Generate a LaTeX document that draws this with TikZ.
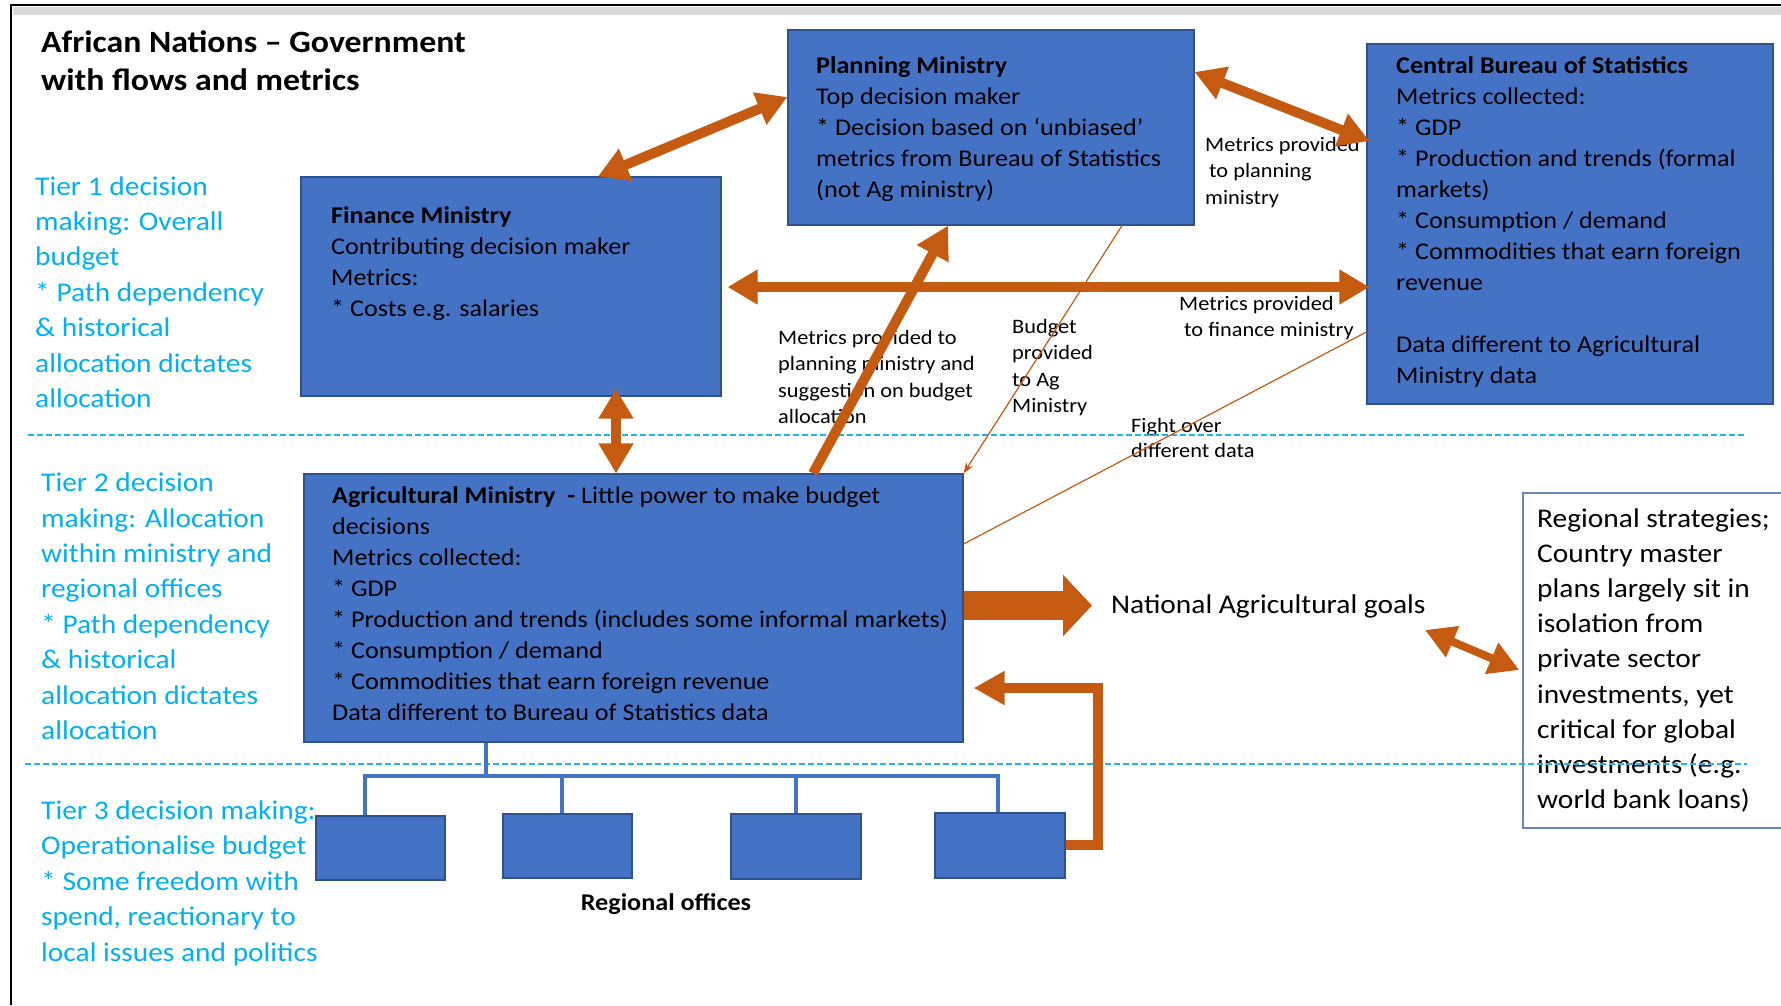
\documentclass[tikz,border=0pt]{standalone}
\usepackage{fontspec}
\setmainfont{Carlito}[FakeStretch=1.09]
\usetikzlibrary{arrows.meta,calc}
\definecolor{boxblue}{HTML}{4472C4}
\definecolor{boxedge}{HTML}{2F528F}
\definecolor{orng}{HTML}{C55A11}
\definecolor{tiercyan}{HTML}{00B0F0}
\definecolor{dashcyan}{HTML}{1FB2EE}
\definecolor{bandgray}{HTML}{DADADA}
\definecolor{noteedge}{HTML}{6A86C0}
\begin{document}
\begin{tikzpicture}[x=1pt,y=-1pt,
  bluebox/.style={draw=boxedge, line width=1.2pt, fill=boxblue, inner sep=0pt},
  txt/.style={anchor=base west, inner sep=0pt, align=left, text=black},
  boxtxt/.style={txt, font=\fontsize{24}{31}\selectfont},
  tiertxt/.style={txt, text=tiercyan, font=\fontsize{27}{35.4}\selectfont},
  labtxt/.style={txt, font=\fontsize{20.5}{26.5}\selectfont},
  bigtxt/.style={txt, font=\fontsize{27}{35.2}\selectfont},
  tierline/.style={draw=dashcyan, line width=2.2pt, dash pattern=on 6pt off 3pt},
  fatarrow/.style={draw=orng, line width=10pt, -{Triangle[length=32pt,width=34pt]}},
  fatdouble/.style={draw=orng, line width=10pt, {Triangle[length=30pt,width=33pt]}-{Triangle[length=30pt,width=33pt]}},
  thinarrow/.style={draw=orng, line width=1.2pt},
  treeline/.style={draw=boxblue, line width=4pt}
]
\useasboundingbox (0,0) rectangle (1781,1005);
\fill[white] (0,0) rectangle (1781,1005);
% frame
\fill[bandgray] (13,7) rectangle (1781,15);
\draw[black, line width=2.5pt] (1781,5) -- (11,5) -- (11,1005);

% title (anchor = baseline of last line)
\node[txt, font=\bfseries\fontsize{31}{38}\selectfont] (title) at (41,90) {African Nations – Government\\with flows and metrics};

% tier texts
\node[tiertxt] (tier1) at (35,407.4) {Tier 1 decision\\making: Overall\\budget\\* Path dependency\\\& historical\\allocation dictates\\allocation};
\node[tiertxt] (tier2) at (41,739.5) {Tier 2 decision\\making: Allocation\\within ministry and\\regional offices\\* Path dependency\\\& historical\\allocation dictates\\allocation};
\node[tiertxt] (tier3) at (41,961) {Tier 3 decision making:\\Operationalise budget\\* Some freedom with\\spend, reactionary to\\local issues and politics};

% boxes
\node[bluebox, minimum width=406pt, minimum height=195pt] (plan) at (991,127.5) {};
\node[bluebox, minimum width=406pt, minimum height=360pt] (bur) at (1570,224) {};
\node[bluebox, minimum width=420pt, minimum height=219pt] (fin) at (511,286.5) {};
\node[bluebox, minimum width=659pt, minimum height=268pt] (ag) at (633.5,608) {};
\node[bluebox, minimum width=129pt, minimum height=64pt] (r1) at (380.5,848) {};
\node[bluebox, minimum width=129pt, minimum height=64pt] (r2) at (567.5,846) {};
\node[bluebox, minimum width=130pt, minimum height=65pt] (r3) at (796,846.5) {};
\node[bluebox, minimum width=130pt, minimum height=65pt] (r4) at (1000,845.5) {};
\node[draw=noteedge, line width=1.5pt, minimum width=280pt, minimum height=335pt, inner sep=0pt] (note) at (1663,660.5) {};

% box texts
\node[boxtxt] (plantxt) at (816,197) {\textbf{Planning Ministry}\\Top decision maker\\* Decision based on ‘unbiased’\\metrics from Bureau of Statistics\\(not Ag ministry)};
\node[boxtxt] (fintxt) at (331,316) {\textbf{Finance Ministry}\\Contributing decision maker\\Metrics:\\* Costs e.g. salaries};
\node[boxtxt] (burtxt) at (1396,383) {\textbf{Central Bureau of Statistics}\\Metrics collected:\\* GDP\\* Production and trends (formal\\markets)\\* Consumption / demand\\* Commodities that earn foreign\\revenue\\[31pt]Data different to Agricultural\\Ministry data};
\node[boxtxt] (agtxt) at (332,720) {\textbf{Agricultural Ministry\ \ -} Little power to make budget\\decisions\\Metrics collected:\\* GDP\\* Production and trends (includes some informal markets)\\* Consumption / demand\\* Commodities that earn foreign revenue\\Data different to Bureau of Statistics data};

% other texts
\node[txt, font=\bfseries\fontsize{24}{31}\selectfont, anchor=base] (regtxt) at (666,910) {Regional offices};
\node[bigtxt] (goals) at (1111,613) {National Agricultural goals};
\node[bigtxt] (notetxt) at (1537,808.6) {Regional strategies;\\Country master\\plans largely sit in\\isolation from\\private sector\\investments, yet\\critical for global\\investments (e.g.\\world bank loans)};

% labels
\node[labtxt] (lab1) at (1205,204) {Metrics provided\\\hspace{4pt}to planning\\ministry};
\node[labtxt] (lab2) at (1179,336.5) {Metrics provided\\\hspace{5pt}to finance ministry};
\node[labtxt] (lab3) at (778,423.5) {Metrics provided to\\planning ministry and\\suggestion on budget\\allocation};
\node[labtxt] (lab4) at (1012,412.5) {Budget\\provided\\to Ag\\Ministry};
\node[labtxt, font=\fontsize{20.5}{25}\selectfont] (lab5) at (1131,457) {Fight over\\different data};

% tier separators
\draw[tierline] (28,435) -- (1746,435);
\draw[tierline] (25,764) -- (1747,764);

% regional office tree
\draw[treeline] (ag.south -| 486,0) -- (486,776);
\draw[treeline] (r1.north -| 365,0) -- (365,776) -- (998,776) -- (r4.north -| 998,0);
\draw[treeline] (r2.north -| 562,0) -- (562,776);
\draw[treeline] (r3.north -| 796,0) -- (796,776);

% thin connectors
\draw[thinarrow, -{Stealth[length=11pt,width=8pt]}] (plan.south -| 1122,0) -- (ag.north east);
\draw[thinarrow] (ag.east |- 0,544) -- (bur.west |- 0,332);

% fat connectors
\draw[fatdouble] (fin.north -| 598,0) -- (plan.west |- 0,97);
\draw[fatdouble] (plan.east |- 0,72) -- ([xshift=3pt]bur.west |- 0,141);
\draw[fatdouble] ([xshift=6pt]fin.east |- 0,287) -- ([xshift=3pt]bur.west |- 0,287);
\draw[fatdouble] ([yshift=8pt]fin.south -| 616,0) -- (ag.north -| 616,0);
\draw[fatarrow] (ag.north -| 813,0) -- (plan.south -| 948,0);
\coordinate (goaltip) at (1092,605.5);
\draw[draw=orng, line width=29pt, -{Triangle[length=29pt,width=60pt]}] (ag.east |- 0,605.5) -- (goaltip);
\coordinate (goalend) at (1425,630);
\draw[draw=orng, line width=8pt, {Triangle[length=30pt,width=32pt]}-{Triangle[length=30pt,width=32pt]}] (goalend) -- ([xshift=-3pt]note.west |- 0,670);
\draw[draw=orng, line width=10pt, line join=miter, -{Triangle[length=31pt,width=32pt]}] (r4.east |- 0,845) -- (1098,845) -- (1098,688) -- ([xshift=10pt]ag.east |- 0,688);
\end{tikzpicture}
\end{document}
